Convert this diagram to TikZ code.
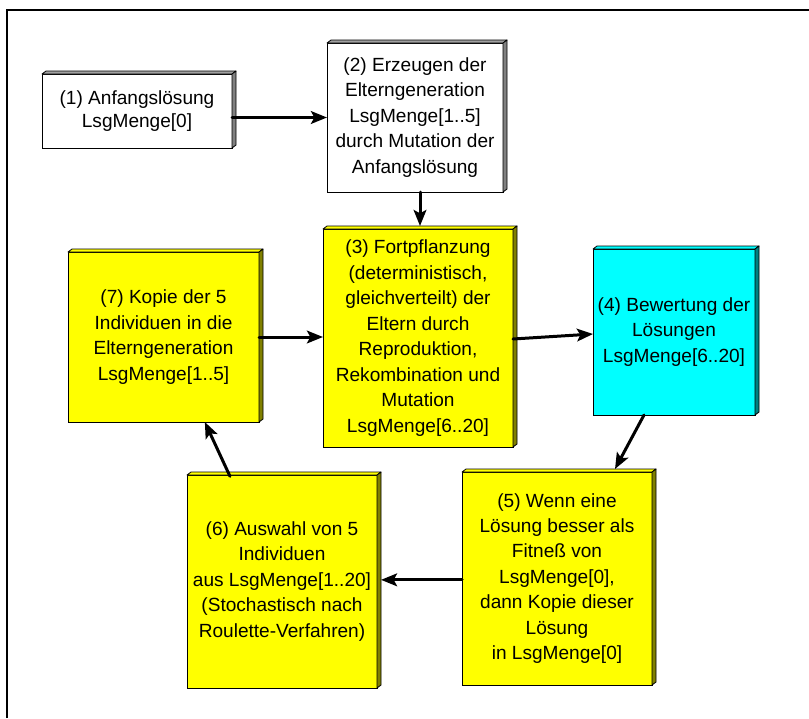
\documentclass[tikz,border=0pt]{standalone}
\usepackage{fontspec}
\setmainfont{Liberation Sans}
\usetikzlibrary{arrows.meta}
\definecolor{fyellow}{HTML}{FFFF00}
\definecolor{syellow}{HTML}{808000}
\definecolor{fcyan}{HTML}{00FFFF}
\definecolor{scyan}{HTML}{008080}
\definecolor{tgray}{HTML}{A0A0A0}
\definecolor{sgray}{HTML}{808080}
\newcommand\boxbevel[3]{%
  \filldraw[fill=#2,draw=black,line width=0.6pt,line join=round]
    (#1.north west) -- ++(4,-3) -- ([shift={(4,-3)}]#1.north east) -- (#1.north east) -- cycle;
  \filldraw[fill=#3,draw=black,line width=0.6pt,line join=round]
    (#1.north east) -- ++(4,-3) -- ([shift={(4,-3)}]#1.south east) -- (#1.south east) -- cycle;}
\tikzset{
  fbox/.style={draw=black,line width=0.7pt,rectangle,inner sep=0pt,outer sep=0pt,
    align=center,font=\fontsize{14.3}{19.1}\selectfont},
  arr/.style={line width=2.25pt,line cap=round,-{Stealth[length=12pt,width=9.5pt,inset=2.5pt]}},
  frameline/.style={line width=1.6pt}
}
\begin{document}
\begin{tikzpicture}[x=0.75pt,y=-0.75pt]
\useasboundingbox (0,0) rectangle (809,718);
\fill[white] (0,0) rectangle (809,718);
\draw[frameline] (7,718) -- (7,10) -- (809,10);

\node[fbox,fill=white,minimum width=142.5pt,minimum height=55.5pt,font=\fontsize{14.3}{17.3}\selectfont] (b1) at (137,111)
  {(1) Anfangslösung\\LsgMenge[0]};
\node[fbox,fill=white,minimum width=132pt,minimum height=111.75pt] (b2) at (415,117.5)
  {(2) Erzeugen der\\Elterngeneration\\LsgMenge[1..5]\\durch Mutation der\\Anfangslösung};
\node[fbox,fill=fyellow,minimum width=142.5pt,minimum height=163.5pt] (b3) at (418,338)
  {(3) Fortpflanzung\\(deterministisch,\\gleichverteilt) der\\Eltern durch\\Reproduktion,\\Rekombination und\\Mutation\\LsgMenge[6..20]};
\node[fbox,fill=fcyan,minimum width=121.5pt,minimum height=124.5pt] (b4) at (674,332)
  {(4) Bewertung der\\Lösungen\\LsgMenge[6..20]};
\node[fbox,fill=fyellow,minimum width=142.5pt,minimum height=159.75pt] (b5) at (557,578.5)
  {(5) Wenn eine\\Lösung besser als\\Fitneß von\\LsgMenge[0],\\dann Kopie dieser\\Lösung\\in LsgMenge[0]};
\node[fbox,fill=fyellow,minimum width=142.5pt,minimum height=159.75pt] (b6) at (282,581.5)
  {(6) Auswahl von 5\\Individuen\\aus LsgMenge[1..20]\\(Stochastisch nach\\Roulette-Verfahren)};
\node[fbox,fill=fyellow,minimum width=143.25pt,minimum height=127.5pt] (b7) at (163.5,337)
  {(7) Kopie der 5\\Individuen in die\\Elterngeneration\\LsgMenge[1..5]};

\boxbevel{b1}{tgray}{sgray}
\boxbevel{b2}{tgray}{sgray}
\boxbevel{b3}{fyellow}{syellow}
\boxbevel{b4}{fcyan}{scyan}
\boxbevel{b5}{fyellow}{syellow}
\boxbevel{b6}{fyellow}{syellow}
\boxbevel{b7}{fyellow}{syellow}

\draw[arr] (b1.east |- b2.west) -- (b2.west);
\draw[arr] ([xshift=3.75pt]b2.south) -- ([xshift=1.5pt,yshift=2.25pt]b3.north);
\draw[arr] (b7.east) -- (b7.east -| b3.west);
\draw[arr] ([yshift=-0.75pt]b3.east) -- ([yshift=-1.5pt]b4.west);
\draw[arr] ([xshift=-22.5pt]b4.south) -- ([xshift=43.5pt,yshift=2.25pt]b5.north);
\draw[arr] ([yshift=-1pt]b5.west) -- ([xshift=3pt,yshift=-1pt]b5.west -| b6.east);
\draw[arr] ([xshift=-39pt,yshift=-1pt]b6.north) -- ([xshift=31pt]b7.south);
\end{tikzpicture}
\end{document}
